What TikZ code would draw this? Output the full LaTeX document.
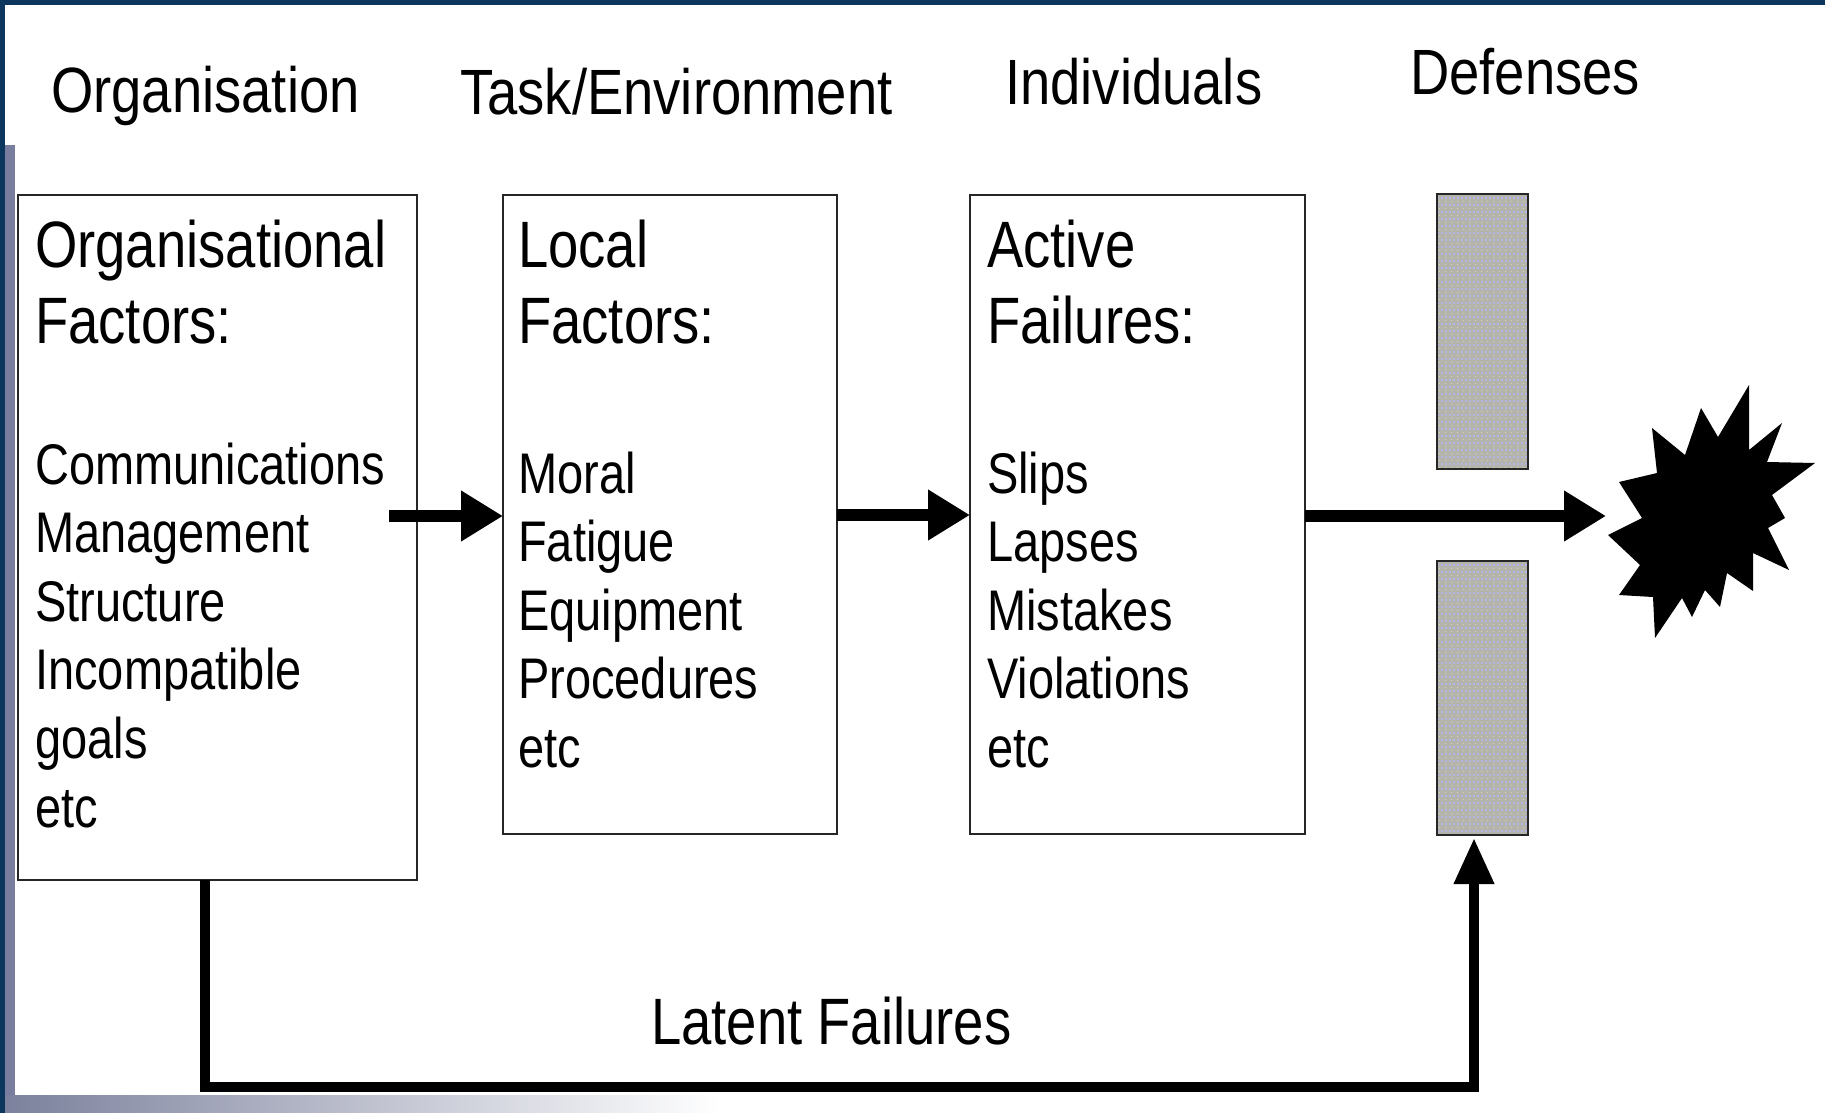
\documentclass[tikz,border=0pt]{standalone}
\usepackage{fontspec}
\setmainfont{Liberation Sans}[FakeStretch=0.85]
\newfontfamily\bigfam{Liberation Sans}[FakeStretch=0.83]
\newfontfamily\itemfam{Liberation Sans}[FakeStretch=0.82]
\usetikzlibrary{arrows.meta}
\definecolor{navy}{HTML}{0C365E}
\definecolor{lavstrip}{HTML}{7A7E9E}
\definecolor{gradl}{HTML}{7B809C}
\definecolor{barfill}{HTML}{B4B4AC}
\definecolor{bardot}{HTML}{B3B3E6}
\definecolor{baryel}{HTML}{D6D6A8}
\begin{document}
\begin{tikzpicture}[x=1pt,y=-1pt,
  box/.style={draw=black!85,line width=2pt,rectangle,inner sep=0pt,outer sep=0pt,anchor=north west},
  bar/.style={box,fill=barfill,path picture={
      \foreach \k in {0,...,39}{
        \draw[bardot,line width=1.5pt,dash pattern=on 2pt off 2pt]
          ([yshift=-\k*7pt-4pt]path picture bounding box.north west) -- ++(100pt,0pt);
        \draw[baryel,line width=1pt,dash pattern=on 1pt off 5pt]
          ([yshift=-\k*7pt-7pt,xshift=2pt]path picture bounding box.north west) -- ++(100pt,0pt);}
      }},
  txt/.style={inner sep=0pt,anchor=base west},
  hdr/.style={txt,font=\fontsize{64}{70}\selectfont},
  big/.style={txt,font=\bigfam\fontsize{65.6}{76}\selectfont},
  item/.style={txt,font=\itemfam\fontsize{57.3}{69}\selectfont},
  flow/.style={line width=12pt,-{Triangle[length=42pt,width=48pt]}},
  latent/.style={line width=10pt,-{Triangle[length=46pt,width=38pt]}}]
\useasboundingbox (0,0) rectangle (1825,1113);
% frame
\fill[white] (0,0) rectangle (1825,1113);
\shade[left color=gradl,right color=white] (0,1095) rectangle (720,1113);
\fill[lavstrip] (5,145) rectangle (15,1095);
\fill[navy] (0,0) rectangle (5,1113);
\fill[navy] (0,0) rectangle (1825,5);
% column headers
\node[hdr] (h1) at (51,113) {Organisation};
\node[hdr] (h2) at (460,115) {Task/Environment};
\node[hdr] (h3) at (1005,105) {Individuals};
\node[hdr] (h4) at (1410,95) {Defenses};
% boxes
\node[box,minimum width=399pt,minimum height=685pt] (box1) at (18,195) {};
\node[box,minimum width=334pt,minimum height=639pt] (box2) at (503,195) {};
\node[box,minimum width=335pt,minimum height=639pt] (box3) at (970,195) {};
\node[bar,minimum width=91pt,minimum height=275pt] (bar1) at (1437,194) {};
\node[bar,minimum width=91pt,minimum height=274pt] (bar2) at (1437,561) {};
% box 1 text
\node[big] (t1a) at (35,267) {Organisational};
\node[big] (t1b) at (35,343) {Factors:};
\foreach \t [count=\i from 0] in {Communications,Management,Structure,Incompatible,goals,etc}
  \node[item] (t1l\i) at (35,484+68.6*\i) {\t};
% box 2 text
\node[big] (t2a) at (518,267) {Local};
\node[big] (t2b) at (518,343) {Factors:};
\foreach \t [count=\i from 0] in {Moral,Fatigue,Equipment,Procedures,etc}
  \node[item] (t2l\i) at (518,493+68.5*\i) {\t};
% box 3 text
\node[big] (t3a) at (987,267) {Active};
\node[big] (t3b) at (987,343) {Failures:};
\foreach \t [count=\i from 0] in {Slips,Lapses,Mistakes,Violations,etc}
  \node[item] (t3l\i) at (987,493+68.5*\i) {\t};
% starburst
\fill[black] (1749,385) -- (1749,450) -- (1782,423) -- (1767,462) -- (1815,463)
  -- (1772,495) -- (1785,518) -- (1768,528) -- (1789,570) -- (1753,553)
  -- (1753,591) -- (1727,573) -- (1720,607) -- (1705,590) -- (1692,617)
  -- (1682,598) -- (1655,638) -- (1653,597) -- (1619,595) -- (1640,565)
  -- (1608,535) -- (1642,518) -- (1619,482) -- (1657,473) -- (1652,428)
  -- (1685,455) -- (1701,408) -- (1718,437) -- cycle;
\coordinate (burst) at (1606,516);
% connectors
\coordinate (a1s) at (389,516);
\draw[flow] (a1s) -- (a1s -| box2.west);
\coordinate (a2y) at (0,515);
\draw[flow] (a2y -| box2.east) -- (a2y -| box3.west);
\draw[flow] (burst -| box3.east) -- (burst);
\coordinate (lx) at (205,1087);
\coordinate (ltop) at (1474,838);
\draw[latent] (lx |- box1.south) -- (lx) -| (ltop);
\node[big] (lat) at (651,1044) {Latent Failures};
\end{tikzpicture}
\end{document}
